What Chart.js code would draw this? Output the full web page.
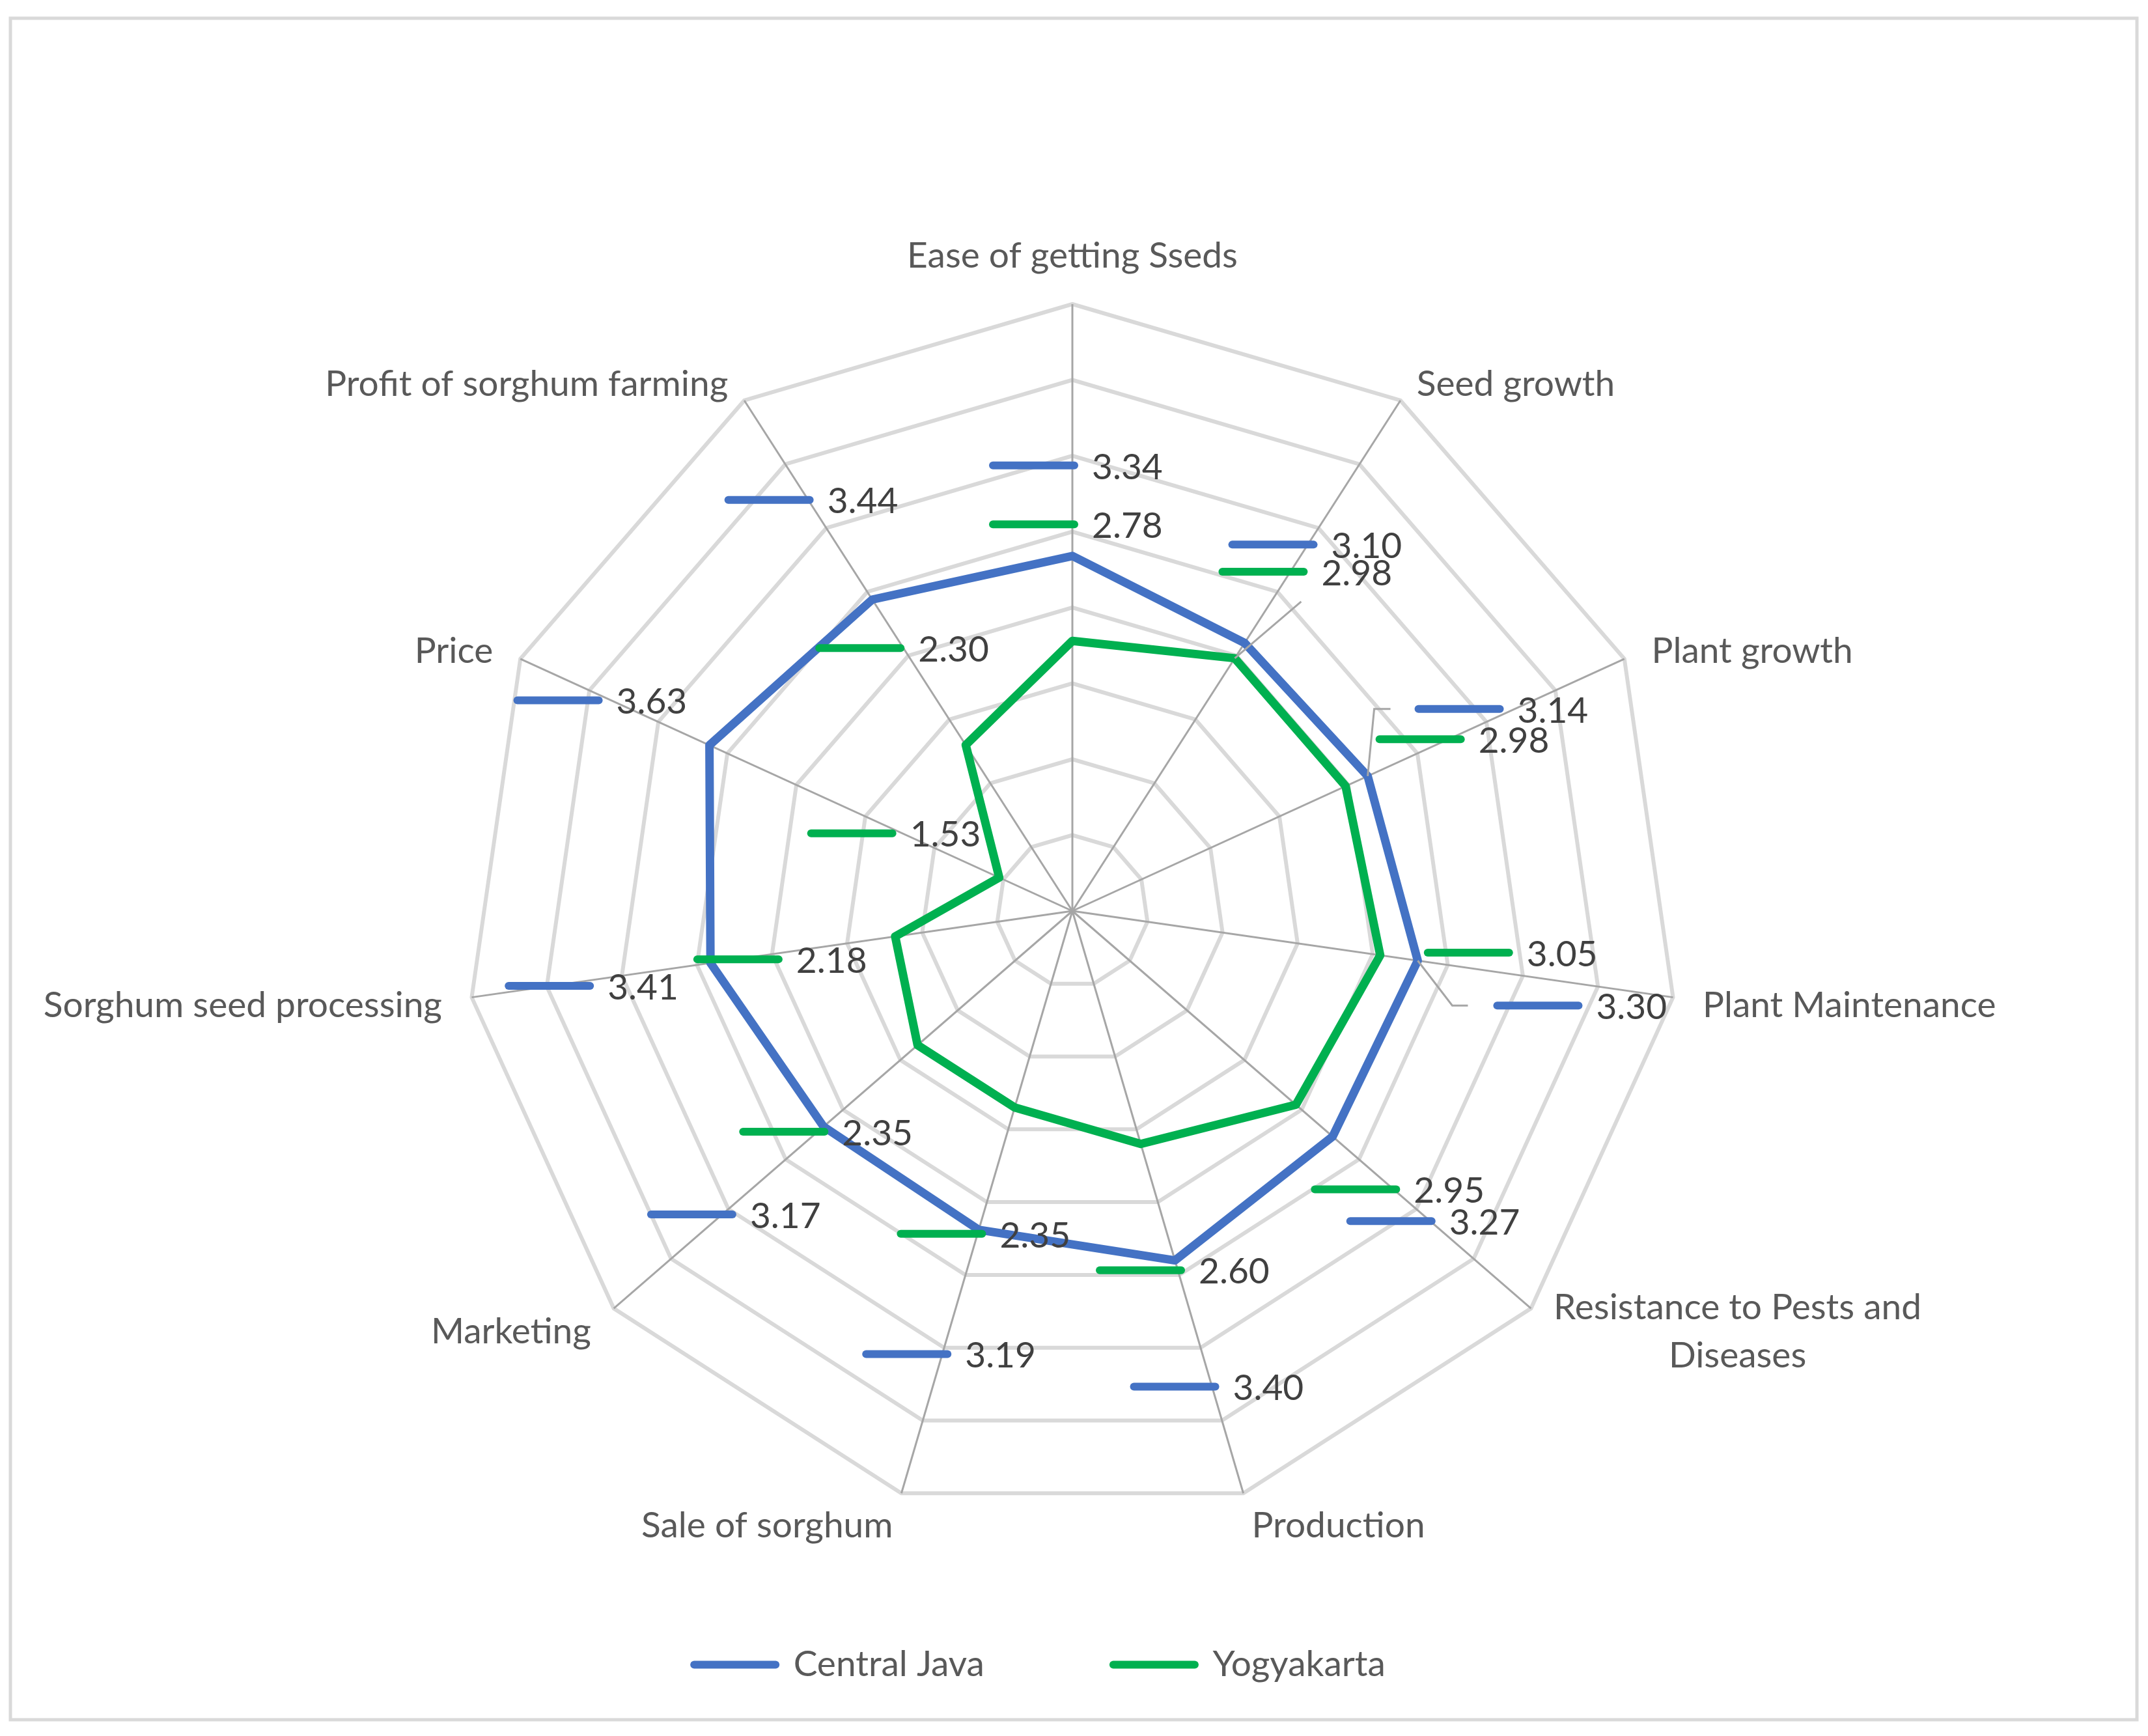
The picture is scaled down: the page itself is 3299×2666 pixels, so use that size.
<!DOCTYPE html>
<html>
<head>
<meta charset="utf-8">
<script src="https://cdn.jsdelivr.net/npm/chart.js@4.4.1/dist/chart.umd.min.js"></script>
<style>
    html, body { margin: 0; padding: 0; background: #ffffff; }
    #wrap { width: 3299px; height: 2666px; }
</style>
</head>
<body>
<div id="wrap"><canvas id="radarChart" width="3299" height="2666"></canvas></div>
<script>
// categories, clockwise from the top
const categories = [
    'Ease of getting Sseds',
    'Seed growth',
    'Plant growth',
    'Plant Maintenance',
    ['Resistance to Pests and', 'Diseases'],
    'Production',
    'Sale of sorghum',
    'Marketing',
    'Sorghum seed processing',
    'Price',
    'Profit of sorghum farming'
];
const seriesNames = ['Central Java', 'Yogyakarta'];
const centralJava = [3.34, 3.10, 3.14, 3.30, 3.27, 3.40, 3.19, 3.17, 3.41, 3.63, 3.44];
const yogyakarta = [2.78, 2.98, 2.98, 3.05, 2.95, 2.60, 2.35, 2.35, 2.18, 1.53, 2.30];
const axisMin = 1;
const axisMax = 5;
const axisStep = 0.5;

const blue = '#4472C4';
const green = '#00B050';

// where each value label (key + number) sits, relative to its point
const labelShiftBlue = [[-128, -139], [-25, -151], [72, -103], [116, 69], [21, 130], [-69, 194], [-179, 191], [-271, 135], [-316, 35], [-301, -69], [-227, -153]];
const labelShiftGreen = [[-128, -179], [-25, -133], [46, -72], [67, -4], [23, 130], [-69, 194], [-181, 194], [-274, 133], [-310, 35], [-295, -68], [-231, -149]];

// gray leader lines from a few labels back to their point
const leaders = [
    { series: 0, index: 2, type: 'elbow', gap: 62, end: 37 },
    { series: 0, index: 3, type: 'elbow', gap: 63, end: 39 },
    { series: 1, index: 1, type: 'straight', ex: 127, ey: 46 }
];

const labelFont = '55px Lato';

const frame = {
    id: 'frame',
    afterLayout(chart) {
        // the legend sits a little left of the plot centre
        chart.legend.left -= 50;
        chart.legend.right -= 50;
    },
    beforeDraw(chart) {
        const ctx = chart.ctx;
        ctx.save();
        ctx.fillStyle = '#ffffff';
        ctx.fillRect(0, 0, chart.width, chart.height);
        ctx.strokeStyle = '#D9D9D9';
        ctx.lineWidth = 5;
        ctx.strokeRect(16, 28, 3266, 2613);
        ctx.restore();
    }
};

const radarText = {
    id: 'radarText',
    afterDatasetsDraw(chart) {
        const ctx = chart.ctx;
        const scale = chart.scales.r;
        ctx.save();

        // category names around the outer ring
        ctx.font = labelFont;
        ctx.fillStyle = '#595959';
        ctx.textAlign = 'center';
        ctx.textBaseline = 'middle';
        categories.forEach((name, i) => {
            const tip = scale.getPointPosition(i, scale.drawingArea);
            const c = Math.cos(tip.angle);
            const s = Math.sin(tip.angle);
            const lines = Array.isArray(name) ? name : [name];
            const w = Math.max(...lines.map(t => ctx.measureText(t).width));
            const lineH = 74;
            let left, cy;
            if (Math.abs(c) < 0.1) {
                left = tip.x - w / 2;
                cy = tip.y - 74;
            } else {
                left = c > 0 ? tip.x + 46 * c : tip.x + 46 * c - w;
                cy = s < 0 ? tip.y + 29 * s : tip.y + 46 * s + 6;
            }
            const top = cy - (lines.length - 1) * lineH / 2;
            lines.forEach((t, k) => ctx.fillText(t, left + w / 2, top + k * lineH));
        });

        const shifts = [labelShiftBlue, labelShiftGreen];

        // leader lines
        ctx.strokeStyle = '#A6A6A6';
        ctx.lineWidth = 3;
        ctx.lineCap = 'butt';
        leaders.forEach(l => {
            const pt = chart.getDatasetMeta(l.series).data[l.index];
            const [dx, dy] = shifts[l.series][l.index];
            const x0 = pt.x + dx, y0 = pt.y + dy;
            ctx.beginPath();
            ctx.moveTo(pt.x, pt.y);
            if (l.type === 'elbow') {
                ctx.lineTo(x0 - l.gap, y0);
                ctx.lineTo(x0 - l.end, y0);
            } else {
                ctx.lineTo(x0 + l.ex, y0 + l.ey);
            }
            ctx.stroke();
        });

        // value labels with legend key
        ctx.font = labelFont;
        ctx.textAlign = 'left';
        ctx.textBaseline = 'middle';
        chart.data.datasets.forEach((ds, d) => {
            const meta = chart.getDatasetMeta(d);
            meta.data.forEach((pt, i) => {
                const [dx, dy] = shifts[d][i];
                const x0 = pt.x + dx, y0 = pt.y + dy;
                ctx.strokeStyle = ds.borderColor;
                ctx.lineWidth = 12;
                ctx.lineCap = 'round';
                ctx.beginPath();
                ctx.moveTo(x0 + 6, y0);
                ctx.lineTo(x0 + 131, y0);
                ctx.stroke();
                ctx.fillStyle = '#404040';
                ctx.fillText(ds.data[i].toFixed(2), x0 + 158, y0 + 3);
            });
        });
        ctx.restore();
    }
};

const ctx = document.getElementById('radarChart').getContext('2d');
new Chart(ctx, {
    type: 'radar',
    data: {
        labels: categories,
        datasets: [
            {
                label: seriesNames[0],
                data: centralJava,
                borderColor: blue,
                backgroundColor: blue,
                borderWidth: 13,
                borderJoinStyle: 'round',
                fill: false,
                pointRadius: 0,
                pointHoverRadius: 0,
                pointBorderWidth: 12,
                pointBorderColor: blue
            },
            {
                label: seriesNames[1],
                data: yogyakarta,
                borderColor: green,
                backgroundColor: green,
                borderWidth: 13,
                borderJoinStyle: 'round',
                fill: false,
                pointRadius: 0,
                pointHoverRadius: 0,
                pointBorderWidth: 12,
                pointBorderColor: green
            }
        ]
    },
    options: {
        responsive: false,
        animation: false,
        devicePixelRatio: 1,
        layout: {
            padding: { left: 300, right: 305, top: 467, bottom: 72 }
        },
        scales: {
            r: {
                min: axisMin,
                max: axisMax,
                ticks: { stepSize: axisStep, display: false },
                grid: { color: '#D9D9D9', lineWidth: 6 },
                angleLines: { color: '#A6A6A6', lineWidth: 3 },
                pointLabels: { display: false }
            }
        },
        plugins: {
            legend: {
                position: 'bottom',
                labels: {
                    usePointStyle: true,
                    pointStyle: 'line',
                    pointStyleWidth: 125,
                    padding: 198,
                    color: '#595959',
                    font: { family: 'Lato', size: 55 },
                    generateLabels: (chart) => Chart.defaults.plugins.legend.labels.generateLabels(chart)
                        .map(item => Object.assign(item, { lineCap: 'round' }))
                }
            },
            tooltip: { enabled: false }
        }
    },
    plugins: [frame, radarText]
});
</script>
</body>
</html>
